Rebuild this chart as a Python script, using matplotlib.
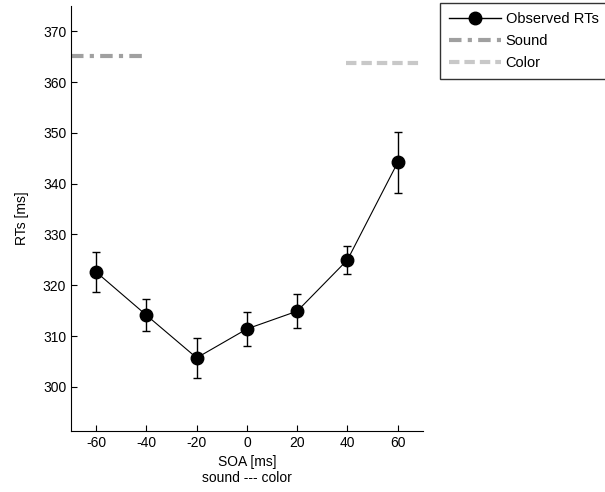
import numpy as np
import matplotlib.pyplot as plt
from matplotlib.lines import Line2D

plt.rcParams['font.family'] = ['Liberation Sans', 'DejaVu Sans']

# Datos
soa = [-60, -40, -20, 0, 20, 40, 60]
rts = [322.6, 314.1, 305.7, 311.4, 314.9, 325.0, 344.2]
err = [4.0, 3.1, 3.9, 3.3, 3.3, 2.7, 6.0]
sound_x = [-70, -40.5]
sound_y = [365.2, 365.2]
color_x = [39.5, 70]
color_y = [363.7, 363.7]

fig = plt.figure(figsize=(6.05, 4.92), dpi=100)
ax = fig.add_axes([0.1174, 0.124, 0.5816, 0.864])

ax.errorbar(soa, rts, yerr=err, color='black', marker='o', markersize=9,
            linewidth=0.8, elinewidth=1.0, capsize=3, capthick=1.0)
sound_line, = ax.plot(sound_x, sound_y, color='#a0a0a0', linewidth=3,
                      linestyle=(0, (3, 1.5, 1, 1.5)))
color_line, = ax.plot(color_x, color_y, color='#c8c8c8', linewidth=3,
                      linestyle=(0, (2.5, 1.2)))

ax.set_xlim(-70, 70)
ax.set_ylim(291.3, 375)
ax.set_xticks(soa)
ax.set_xticklabels([str(s) for s in soa])
ax.set_yticks(np.arange(300, 371, 10))
ax.tick_params(direction='in', length=4, labelsize=10)
ax.spines['top'].set_visible(False)
ax.spines['right'].set_visible(False)
ax.set_xlabel('SOA [ms]\nsound --- color', fontsize=10, linespacing=1.1)
ax.set_ylabel('RTs [ms]', fontsize=10, labelpad=10)

obs_handle = Line2D([], [], color='black', marker='o', markersize=9, linewidth=1.0)
leg = fig.legend([obs_handle, sound_line, color_line],
                 ['Observed RTs', 'Sound', 'Color'],
                 loc='upper left', bbox_to_anchor=(440 / 605, 1 - 3 / 492),
                 fontsize=10.5, frameon=True, fancybox=False, edgecolor='black',
                 handlelength=3.6, borderaxespad=0, borderpad=0.6,
                 labelspacing=0.55, handletextpad=0.3)
leg.get_frame().set_linewidth(1.0)

fig.savefig('out.png', dpi=100)
